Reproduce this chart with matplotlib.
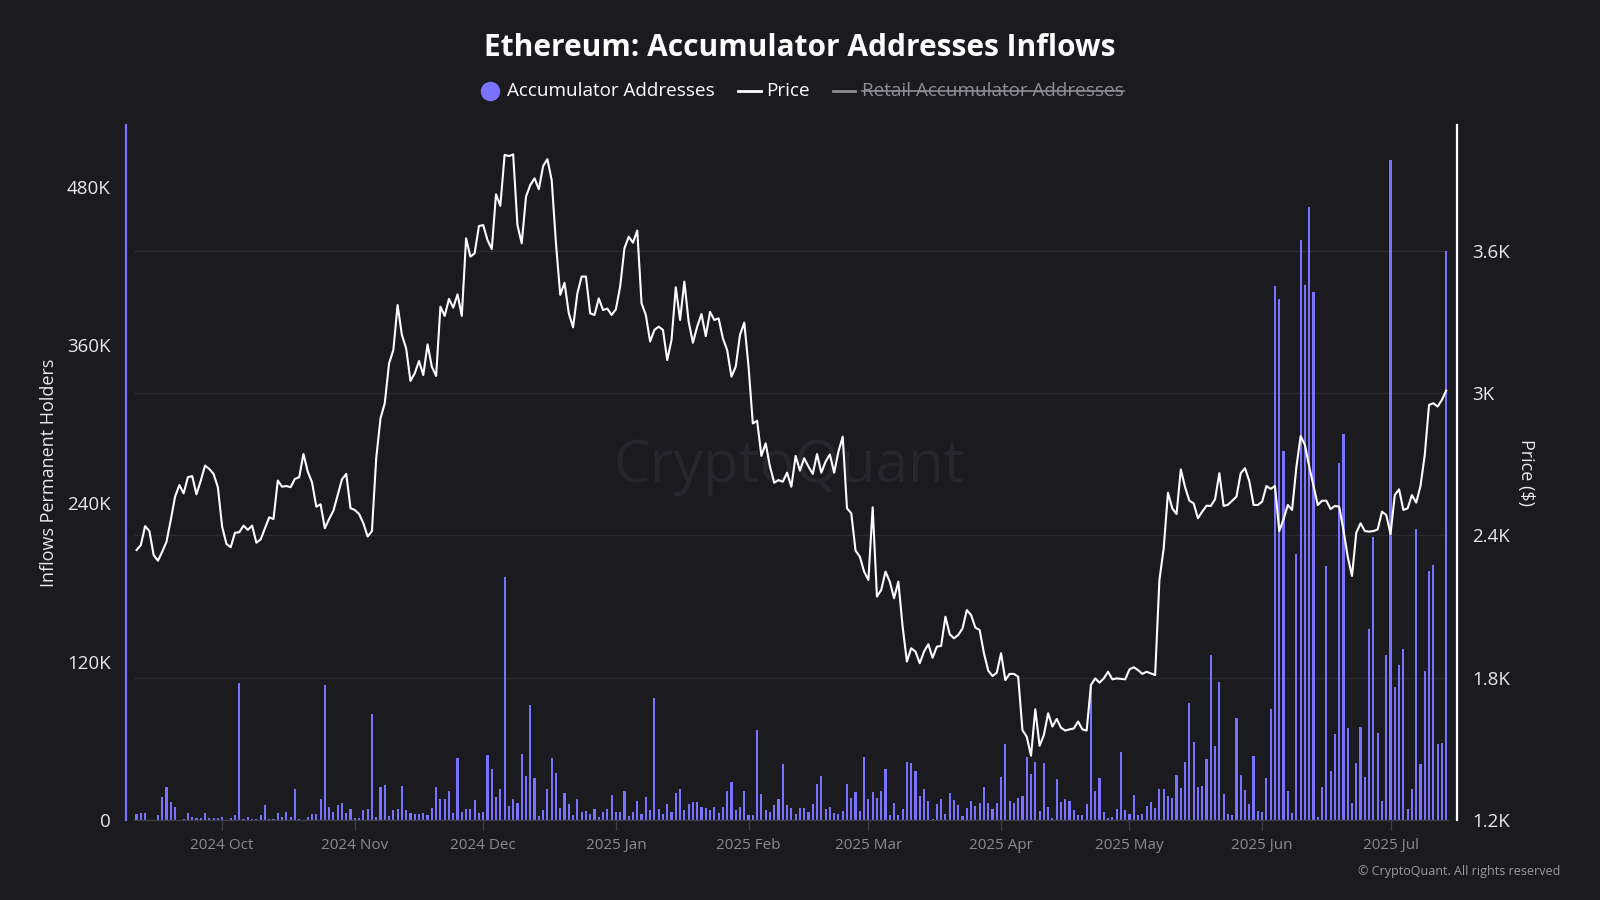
import numpy as np
import pandas as pd
import matplotlib
matplotlib.use('Agg')
import matplotlib.pyplot as plt
import matplotlib.dates as mdates
from matplotlib.ticker import FuncFormatter, FixedLocator
from matplotlib.lines import Line2D

plt.rcParams['font.family'] = ['Open Sans', 'DejaVu Sans']

# daily values, 2024-09-11 .. 2025-07-14
start = '2024-09-11'

# Accumulator addresses inflows (thousands)
inflows_k = [
    4.3, 5.0, 5.0, 0, 0, 3.5, 17.2, 24.8, 13.6, 9.6,
    0, 0.5, 5.0, 2.0, 1.3, 1.3, 5.0, 1.3, 1.3, 1.3,
    2.5, 0, 1.8, 3.5, 103.6, 0.5, 2.5, 0.5, 0.5, 3.5,
    11.1, 0.5, 0.5, 5.6, 2.0, 6.3, 2.0, 23.2, 0.5, 0,
    2.5, 4.3, 4.3, 15.7, 102.1, 9.6, 5.8, 11.1, 12.6, 5.0,
    8.6, 1.3, 1.3, 7.8, 8.6, 80.1, 2.0, 24.8, 26.3, 2.8,
    7.3, 8.1, 25.8, 7.3, 5.0, 4.3, 4.3, 5.0, 3.5, 8.8,
    24.8, 15.7, 15.7, 21.7, 5.0, 46.8, 5.8, 8.1, 8.1, 14.9,
    5.0, 5.8, 49.0, 38.4, 17.2, 23.2, 184.0, 10.4, 15.7, 13.1,
    49.8, 33.1, 86.9, 31.6, 2.8, 7.3, 23.2, 46.8, 35.4, 8.8,
    20.2, 11.9, 3.5, 15.7, 5.8, 6.6, 4.3, 8.1, 2.5, 5.8,
    8.6, 18.7, 5.8, 5.8, 21.7, 2.8, 5.8, 14.2, 4.3, 17.2,
    7.3, 92.2, 8.1, 4.3, 11.9, 5.8, 20.2, 23.2, 7.3, 11.9,
    13.4, 13.4, 9.6, 8.8, 7.3, 9.6, 5.0, 9.6, 21.7, 28.6,
    7.3, 9.6, 21.7, 3.5, 3.5, 68.0, 19.5, 7.3, 5.8, 11.1,
    15.7, 42.2, 11.1, 8.8, 4.3, 8.8, 8.8, 5.8, 11.9, 27.0,
    33.1, 8.1, 9.6, 5.0, 4.3, 6.6, 27.0, 16.4, 21.0, 6.6,
    47.5, 15.7, 21.0, 16.4, 21.7, 38.4, 3.5, 12.6, 3.5, 8.1,
    43.7, 43.0, 36.9, 18.0, 23.2, 14.2, 0.8, 11.9, 15.7, 4.3,
    20.2, 14.9, 11.1, 2.8, 8.8, 14.2, 10.4, 12.6, 24.8, 12.6,
    8.1, 12.6, 32.3, 57.4, 14.2, 12.6, 16.4, 18.0, 47.5, 34.6,
    43.7, 6.6, 43.0, 9.6, 1.3, 31.3, 13.4, 15.7, 14.2, 7.3,
    3.5, 3.5, 11.9, 102.9, 21.7, 31.6, 5.8, 1.3, 2.0, 8.1,
    51.3, 7.3, 4.3, 18.7, 3.5, 4.3, 10.4, 13.4, 8.8, 23.2,
    23.2, 18.0, 16.4, 33.9, 24.0, 43.7, 88.5, 58.9, 24.8, 25.5,
    46.0, 124.9, 55.9, 104.4, 19.5, 4.3, 3.5, 77.1, 33.9, 22.5,
    11.9, 48.3, 6.6, 5.8, 31.6, 83.9, 405, 395, 280, 21.7,
    5.0, 202, 440, 406, 465, 400, 2.0, 24.8, 192.6, 36.9,
    65.0, 271, 292.6, 69.5, 12.6, 43.0, 70.3, 32.3, 144.6, 214.3,
    65.7, 14.2, 124.9, 500.8, 100.6, 117.5, 129.4, 8.1, 23.2, 221,
    42.2, 112.7, 188.5, 193.7, 57.4, 58.1, 431.8,
]

# ETH price ($)
price = [
    2338, 2359, 2439, 2418, 2317, 2293, 2331, 2373, 2465, 2563,
    2612, 2577, 2645, 2650, 2573, 2630, 2694, 2680, 2659, 2603,
    2437, 2364, 2350, 2411, 2413, 2441, 2423, 2441, 2369, 2383,
    2430, 2476, 2469, 2631, 2605, 2608, 2603, 2638, 2645, 2743,
    2669, 2624, 2521, 2531, 2430, 2469, 2504, 2570, 2636, 2659,
    2514, 2507, 2490, 2451, 2395, 2418,
    2725, 2893, 2957, 3125, 3181, 3371, 3245, 3188, 3051, 3083,
    3135, 3076, 3205, 3111, 3072, 3364, 3325, 3397, 3360, 3416,
    3325, 3652, 3575, 3589, 3704, 3708, 3645, 3607, 3838, 3789,
    4004, 3999, 4006, 3708, 3631, 3828, 3877, 3905, 3859, 3957,
    3986, 3898, 3631, 3414, 3465, 3336, 3277, 3420, 3491, 3491,
    3336, 3329, 3399,
    3350, 3356, 3329, 3353, 3449, 3610, 3659, 3634, 3685, 3378,
    3329, 3217, 3266, 3280, 3266, 3139, 3224, 3446, 3308, 3470,
    3301, 3212, 3280, 3333, 3240, 3342, 3308, 3315, 3231, 3181,
    3069, 3111, 3245, 3297, 3111, 2872, 2883, 2735, 2788, 2690,
    2622, 2633, 2626, 2664, 2605, 2735, 2673, 2725, 2690, 2659,
    2743, 2664, 2711, 2741, 2664, 2753, 2816,
    2514, 2493, 2336, 2310, 2247, 2212, 2518, 2142, 2170, 2247,
    2205, 2135, 2205, 2015, 1868, 1924, 1910, 1861, 1910, 1941,
    1884, 1931, 1934, 2057, 1983, 1966, 1980, 2008, 2085, 2064,
    2011, 2001, 1903, 1830, 1807, 1821, 1903, 1790, 1816, 1816,
    1804, 1579, 1551, 1471, 1667, 1513, 1558, 1650, 1594, 1626,
    1589, 1577, 1582, 1586, 1615, 1582, 1577, 1769, 1797, 1779,
    1797, 1825, 1793, 1797, 1795, 1793, 1835, 1844, 1832, 1816,
    1825, 1818, 1811,
    2212, 2345, 2580, 2514, 2490, 2678, 2603, 2546, 2535, 2472,
    2500, 2525, 2524, 2552, 2662, 2524, 2529, 2546, 2563, 2662,
    2683, 2629, 2528, 2528, 2542, 2608, 2596, 2608, 2418, 2468,
    2528, 2507, 2687, 2819, 2781, 2690, 2608, 2528, 2546, 2546,
    2511, 2524, 2521, 2423, 2310, 2229, 2411, 2451, 2418, 2416,
    2418, 2425, 2500, 2486, 2406, 2570, 2594, 2507, 2514, 2570,
    2538, 2608, 2739, 2950, 2957, 2943, 2971, 3010,
]

inflow_ticks = [0, 120, 240, 360, 480]
price_ticks = [1200, 1800, 2400, 3000, 3600]

dates = pd.date_range(start, periods=len(price), freq='D')

bg = '#1b1a1f'
purple = '#7a73ff'
txt = '#e8e8ea'
grey = '#8a8a90'

fig = plt.figure(figsize=(16, 9), dpi=100, facecolor=bg)
rect = [134.4 / 1600, 80 / 900, (1448.3 - 134.4) / 1600, 695 / 900]
axb = fig.add_axes(rect)
axp = axb.twinx()
axl = axb.twinx()
axp.set_zorder(0)
axb.set_zorder(1)
axl.set_zorder(2)
for a in (axb, axp, axl):
    a.patch.set_visible(False)
    for s in a.spines.values():
        s.set_visible(False)

one_day = pd.Timedelta(days=1)
axb.set_xlim(dates[0] - 0.5 * one_day, dates[-1] + 0.5 * one_day)

# bars
axb.bar(dates, inflows_k, width=0.5, color=purple, zorder=2)
axb.set_ylim(0, 527)
axb.yaxis.set_major_locator(FixedLocator(inflow_ticks))
axb.yaxis.set_major_formatter(FuncFormatter(lambda v, p: '0' if v == 0 else f'{int(v)}K'))
axb.yaxis.tick_left()
axb.yaxis.set_label_position('left')
axb.tick_params(axis='y', length=0, pad=11, labelsize=13.5, labelcolor=txt)
axb.spines['left'].set_visible(True)
axb.spines['left'].set_color(purple)
axb.spines['left'].set_linewidth(1.6)
axb.spines['left'].set_position(('outward', 6))
axb.spines['bottom'].set_visible(True)
axb.spines['bottom'].set_color('#3c3c42')
axb.spines['bottom'].set_linewidth(1)
axb.set_ylabel('Inflows Permanent Holders', fontsize=13, color=txt)
axb.yaxis.set_label_coords(-0.058, 0.5)

axb.xaxis.set_major_locator(mdates.MonthLocator())
axb.xaxis.set_major_formatter(mdates.DateFormatter('%Y %b'))
axb.tick_params(axis='x', length=7, width=1, color='#3c3c42', pad=6,
                labelsize=11, labelcolor=grey)

# price scale + grid
axp.set_ylim(1200, 4130)
axp.yaxis.set_major_locator(FixedLocator(price_ticks))
axp.yaxis.set_major_formatter(FuncFormatter(lambda v, p: f'{v / 1000:g}K'))
axp.yaxis.tick_right()
axp.tick_params(axis='y', length=0, pad=11, labelsize=13.5, labelcolor=txt)
axp.spines['right'].set_visible(True)
axp.spines['right'].set_color('white')
axp.spines['right'].set_linewidth(1.6)
axp.spines['right'].set_position(('outward', 6))
axp.grid(axis='y', color='#2c2b31', linewidth=1)
axp.set_ylabel('Price ($)', fontsize=13, color=txt, rotation=270)
axp.yaxis.set_label_coords(1.0663, 0.5)

axp.text(789 / 1600, 1 - 467 / 900, 'CryptoQuant', transform=fig.transFigure,
         fontsize=42, color='#27262c', ha='center', va='center', zorder=0)

# price line on top
axl.set_ylim(axp.get_ylim())
axl.plot(dates, price, color='white', linewidth=1.5, zorder=3)
axl.set_yticks([])
axl.tick_params(axis='both', length=0)

# title and legend
fig.text(0.5, 1 - 48 / 900, 'Ethereum: Accumulator Addresses Inflows',
         ha='center', va='center', fontsize=21.5, fontweight='bold', color='white')

ly = 1 - 91 / 900
fig.add_artist(Line2D([490 / 1600], [ly], marker='o', markersize=13,
                      color=purple, transform=fig.transFigure))
fig.text(507 / 1600, ly, 'Accumulator Addresses', ha='left', va='center',
         fontsize=13.6, color='white')
fig.add_artist(Line2D([738 / 1600, 761 / 1600], [ly, ly], color='white',
                      linewidth=2, transform=fig.transFigure))
fig.text(766 / 1600, ly, 'Price', ha='left', va='center', fontsize=13.6, color='white')
fig.add_artist(Line2D([833 / 1600, 855 / 1600], [ly, ly], color='#8d8d93',
                      linewidth=2, transform=fig.transFigure))
t = fig.text(862 / 1600, ly, 'Retail Accumulator Addresses', ha='left', va='center',
             fontsize=13.6, color='#8d8d93')
fig.canvas.draw()
bb = t.get_window_extent()
fig.add_artist(Line2D([bb.x0 / 1600, bb.x1 / 1600], [ly, ly], color='#8d8d93',
                      linewidth=1.2, transform=fig.transFigure))

fig.text(1560 / 1600, 1 - 872 / 900, '\u00a9 CryptoQuant. All rights reserved',
         ha='right', va='center', fontsize=9, color='#9a9aa0')

fig.savefig('out.png', dpi=100, facecolor=bg)
